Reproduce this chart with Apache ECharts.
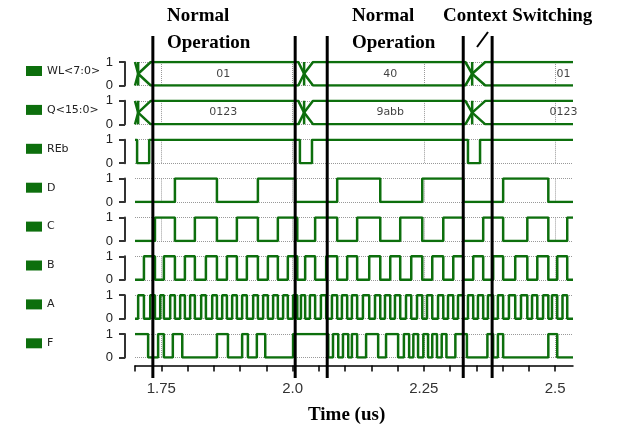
<!DOCTYPE html>
<html>
<head>
<meta charset="utf-8">
<script src="https://cdn.jsdelivr.net/npm/echarts@6/dist/echarts.min.js"></script>
<style>
html, body { margin: 0; padding: 0; background: #fff; }
#chart { width: 620px; height: 428px; }
</style>
</head>
<body>
<div id="chart"></div>
<script>
// signal rows, top to bottom
var signalNames = ['WL<7:0>', 'Q<15:0>', 'REb', 'D', 'C', 'B', 'A', 'F'];
var timeMin = 1.70, timeMax = 2.534;
var majorTicks = [1.75, 2.0, 2.25, 2.5];
var minorTicks = [1.70, 1.75, 1.80, 1.85, 1.90, 1.95, 2.0, 2.05, 2.10, 2.15, 2.20, 2.25, 2.30, 2.35, 2.40, 2.45, 2.50];

// bus transitions: [start, cross, settled]
var busEdges = [[1.700, 1.706, 1.730], [2.011, 2.022, 2.039], [2.329, 2.342, 2.367]];
var busLabelTimes = [1.868, 2.186, 2.516];
var wlValues = ['01', '40', '01'];
var qValues = ['0123', '9abb', '0123'];

// digital signals (spans in us)
var rebLow = [[1.704, 1.727], [2.014, 2.037], [2.334, 2.357]];
var dHigh = [[1.776, 1.856], [1.934, 2.005], [2.085, 2.167], [2.247, 2.325], [2.401, 2.487]];
var cHigh = [[1.738, 1.776], [1.814, 1.856], [1.894, 1.934], [1.972, 2.009], [2.043, 2.085], [2.123, 2.167],
             [2.205, 2.247], [2.287, 2.325], [2.363, 2.401], [2.447, 2.487], [2.523, 2.534]];
var bHigh = [[1.717, 1.738], [1.755, 1.776], [1.795, 1.814], [1.835, 1.856], [1.875, 1.894], [1.913, 1.934],
             [1.953, 1.972], [1.991, 2.009], [2.024, 2.043], [2.064, 2.085], [2.104, 2.123], [2.146, 2.167],
             [2.186, 2.205], [2.226, 2.247], [2.266, 2.287], [2.306, 2.325], [2.344, 2.363], [2.382, 2.401],
             [2.424, 2.447], [2.466, 2.487], [2.504, 2.523]];
var aHigh = [[1.706, 1.717], [1.729, 1.738], [1.748, 1.755], [1.767, 1.776], [1.786, 1.795], [1.805, 1.814],
             [1.826, 1.835], [1.847, 1.856], [1.866, 1.875], [1.885, 1.894], [1.904, 1.913], [1.925, 1.934],
             [1.944, 1.953], [1.963, 1.972], [1.982, 1.991], [2.001, 2.009], [2.016, 2.024], [2.033, 2.043],
             [2.054, 2.064], [2.075, 2.085], [2.094, 2.104], [2.113, 2.123], [2.134, 2.146], [2.157, 2.167],
             [2.176, 2.186], [2.195, 2.205], [2.216, 2.226], [2.237, 2.247], [2.256, 2.266], [2.277, 2.287],
             [2.296, 2.306], [2.315, 2.325], [2.334, 2.344], [2.353, 2.363], [2.372, 2.382], [2.391, 2.401],
             [2.412, 2.424], [2.435, 2.447], [2.456, 2.466], [2.477, 2.487], [2.494, 2.504], [2.514, 2.523]];
var fHigh = [[1.700, 1.725], [1.744, 1.755], [1.772, 1.790], [1.856, 1.877], [1.904, 1.915], [1.932, 1.948],
             [2.001, 2.068], [2.077, 2.087], [2.096, 2.106], [2.113, 2.123], [2.140, 2.163], [2.178, 2.201],
             [2.212, 2.222], [2.230, 2.239], [2.249, 2.258], [2.266, 2.275], [2.284, 2.293], [2.310, 2.332],
             [2.371, 2.382], [2.391, 2.401], [2.487, 2.504]];

// black phase markers
var phaseMarks = [1.734, 2.005, 2.066, 2.325, 2.380];

var green = '#0d6f0d';
var rowTop = 62, rowStep = 38.86, rowHeight = 23.5;
var plotLeft = 135, plotRight = 47;

function stepData(spans, base) {
    var hi = 1 - base;
    var pts = [];
    if (spans[0][0] > timeMin) pts.push([timeMin, base]);
    spans.forEach(function (s) {
        if (s[0] > timeMin) pts.push([s[0], base]);
        pts.push([s[0], hi], [Math.min(s[1], timeMax), hi]);
        if (s[1] < timeMax) pts.push([s[1], base]);
    });
    if (spans[spans.length - 1][1] < timeMax) pts.push([timeMax, base]);
    return pts;
}

function busLine(level) {
    var pts = [];
    busEdges.forEach(function (e) {
        pts.push([e[0], level], [e[1], 0.5], [e[2], level]);
    });
    pts.push([timeMax, level]);
    return pts;
}

function busBars() {
    var pts = [];
    busEdges.forEach(function (e) {
        pts.push([e[1], 0], [e[1], 1], [e[1], '-']);
    });
    return pts;
}

var grids = [], xAxes = [], yAxes = [], series = [];
var fontSans = 'Liberation Sans, Arial, sans-serif';
var hiddenAxis = {
    axisLine: { show: false }, axisTick: { show: false }, axisLabel: { show: false }, splitLine: { show: false }
};

signalNames.forEach(function (name, i) {
    grids.push({ left: plotLeft, right: plotRight, top: rowTop + i * rowStep, height: rowHeight });
    xAxes.push({
        gridIndex: i, type: 'value', min: timeMin, max: timeMax,
        axisLine: { show: false },
        axisTick: { show: false, customValues: majorTicks },
        axisLabel: { show: false },
        splitLine: { show: true, lineStyle: { type: 'dotted', color: '#999', width: 1 } }
    });
    yAxes.push({
        gridIndex: i, type: 'value', min: 0, max: 1, interval: 1, offset: 10,
        axisLine: { show: true, onZero: false, lineStyle: { color: '#333', width: 2 } },
        axisTick: { show: true, length: 6, lineStyle: { color: '#333', width: 2 } },
        axisLabel: { fontSize: 13, color: '#222', margin: 12, fontFamily: fontSans },
        splitLine: { show: true, lineStyle: { type: 'dotted', color: '#999', width: 1 } }
    });
});

// overlay grid for the black phase lines
grids.push({ left: plotLeft, right: plotRight, top: 36, height: 342 });
xAxes.push(Object.assign({ gridIndex: 8, type: 'value', min: timeMin, max: timeMax }, hiddenAxis));
yAxes.push(Object.assign({ gridIndex: 8, type: 'value', min: 0, max: 1 }, hiddenAxis));

// visible time axis under the F row
xAxes.push({
    gridIndex: 7, type: 'value', min: timeMin, max: timeMax, position: 'bottom', offset: 8,
    axisLine: { show: true, onZero: false, lineStyle: { color: '#000', width: 1.5 } },
    axisTick: { show: true, customValues: minorTicks, length: 6, lineStyle: { color: '#000', width: 1.5 } },
    axisLabel: {
        customValues: majorTicks, margin: 16, fontSize: 15, color: '#333', fontFamily: fontSans,
        formatter: function (v) { return v.toFixed(2).replace(/0$/, ''); }
    },
    splitLine: { show: false }
});

function lineSeries(name, idx, data, z) {
    return {
        name: name, type: 'line', xAxisIndex: idx, yAxisIndex: idx, data: data,
        symbol: 'none', color: green, lineStyle: { color: green, width: 2.5 },
        silent: true, z: z || 3, animation: false
    };
}

// bus rows
[wlValues, qValues].forEach(function (vals, i) {
    series.push(lineSeries(signalNames[i], i, busLine(1)));
    series.push(lineSeries(signalNames[i], i, busLine(0)));
    series.push(lineSeries(signalNames[i], i, busBars()));
    series.push({
        name: 'busText' + i, type: 'scatter', xAxisIndex: i, yAxisIndex: i, symbolSize: 0,
        data: busLabelTimes.map(function (t, k) { return [t, 0.5, vals[k]]; }),
        label: {
            show: true, position: 'inside', color: '#111', fontSize: 11, fontFamily: 'DejaVu Sans',
            formatter: function (p) { return p.value[2]; }
        },
        silent: true, animation: false
    });
});

series.push(lineSeries('REb', 2, stepData(rebLow, 1)));
series.push(lineSeries('D', 3, stepData(dHigh, 0)));
series.push(lineSeries('C', 4, stepData(cHigh, 0)));
series.push(lineSeries('B', 5, stepData(bHigh, 0)));
series.push(lineSeries('A', 6, stepData(aHigh, 0)));
series.push(lineSeries('F', 7, stepData(fHigh, 0)));

var phaseData = [];
phaseMarks.forEach(function (t) { phaseData.push([t, 0], [t, 1], [t, '-']); });
series.push({
    name: 'phase', type: 'line', xAxisIndex: 8, yAxisIndex: 8, data: phaseData,
    symbol: 'none', lineStyle: { color: '#000', width: 3 }, silent: true, z: 10, animation: false
});

var serif = 'Liberation Serif, Times New Roman, serif';
var option = {
    animation: false,
    legend: {
        orient: 'vertical', left: 21, top: 60, itemWidth: 16, itemHeight: 10, itemGap: 26.9,
        icon: 'rect', selectedMode: false, data: signalNames,
        textStyle: { fontFamily: 'DejaVu Sans', fontSize: 11, color: '#222', lineHeight: 12 }
    },
    grid: grids,
    xAxis: xAxes,
    yAxis: yAxes,
    series: series,
    graphic: [
        { type: 'text', left: 167, top: 3, style: { text: 'Normal\nOperation', font: 'bold 19px ' + serif, lineHeight: 27, fill: '#000' } },
        { type: 'text', left: 352, top: 3, style: { text: 'Normal\nOperation', font: 'bold 19px ' + serif, lineHeight: 27, fill: '#000' } },
        { type: 'text', left: 443, top: 3, style: { text: 'Context Switching', font: 'bold 19px ' + serif, lineHeight: 27, fill: '#000' } },
        { type: 'text', left: 308, top: 406, style: { text: 'Time (us)', font: 'bold 19px ' + serif, fill: '#000' } },
        { type: 'line', shape: { x1: 477, y1: 47, x2: 488, y2: 32 }, style: { stroke: '#000', lineWidth: 2 } }
    ]
};

var chart = echarts.init(document.getElementById('chart'));
chart.setOption(option);
</script>
</body>
</html>
